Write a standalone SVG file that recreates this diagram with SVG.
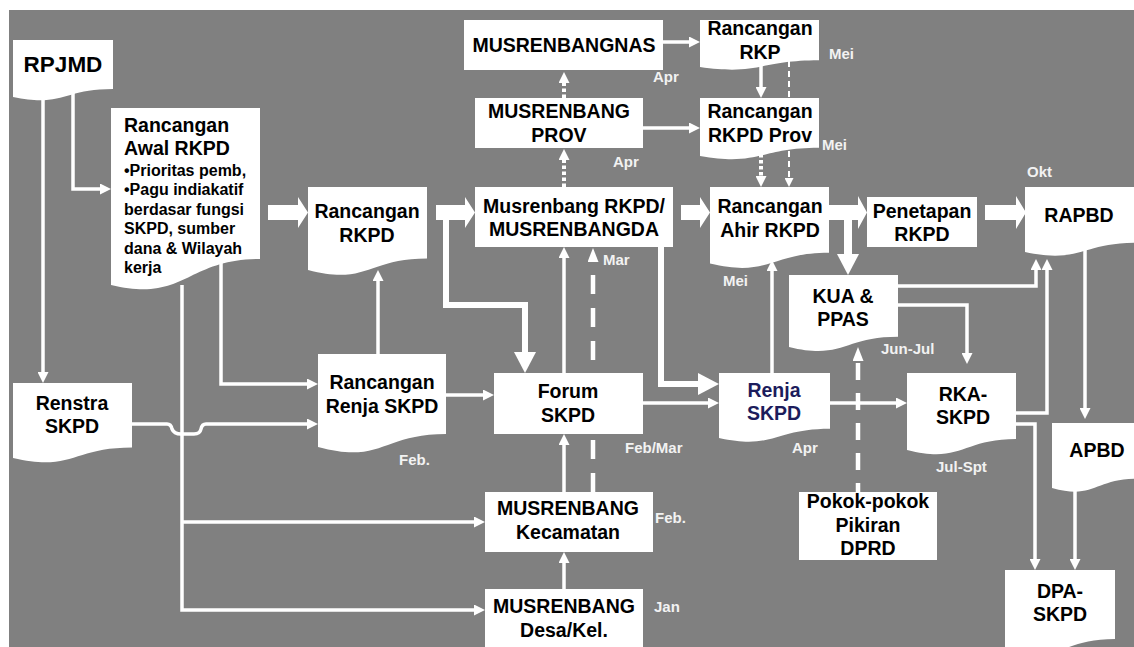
<svg xmlns="http://www.w3.org/2000/svg" width="1134" height="647" viewBox="0 0 1134 647">
<style>
.n{fill:#fff}
.t{font-family:'Liberation Sans',Arial,Helvetica,sans-serif;font-weight:bold;font-size:19.5px;fill:#000;text-anchor:middle}
.s{font-family:'Liberation Sans',Arial,Helvetica,sans-serif;font-weight:bold;font-size:16px;fill:#000}
.lb{font-family:'Liberation Sans',Arial,Helvetica,sans-serif;font-weight:bold;font-size:15px;fill:#f2f2f2}
.c{fill:none;stroke:#fff;stroke-width:3.5}
.th{fill:none;stroke:#fff;stroke-width:6}
.dot{fill:none;stroke:#fff;stroke-width:4;stroke-dasharray:3.5 2.5}
.dl{fill:none;stroke:#fff;stroke-width:4.5}
.dt{fill:none;stroke:#fff;stroke-width:2;stroke-dasharray:6 4}
.blk{fill:#fff}
</style>
<defs>
<marker id="a" viewBox="0 0 11 11" markerWidth="11" markerHeight="11" refX="2" refY="5.5" orient="auto" markerUnits="userSpaceOnUse"><path d="M0,0 L11,5.5 L0,11 Z" fill="#fff"/></marker>
<marker id="s" viewBox="0 0 9 9" markerWidth="9" markerHeight="9" refX="2" refY="4.5" orient="auto" markerUnits="userSpaceOnUse"><path d="M0,0 L9,4.5 L0,9 Z" fill="#fff"/></marker>
<marker id="m" viewBox="0 0 14 11" markerWidth="14" markerHeight="11" refX="2" refY="5.5" orient="auto" markerUnits="userSpaceOnUse"><path d="M0,0 L14,5.5 L0,11 Z" fill="#fff"/></marker>
<marker id="b" viewBox="0 0 21 22" markerWidth="21" markerHeight="22" refX="1" refY="11" orient="auto" markerUnits="userSpaceOnUse"><path d="M0,0 L21,11 L0,22 Z" fill="#fff"/></marker>
</defs>
<rect x="0" y="0" width="1134" height="647" fill="#fff"/>
<rect x="9" y="10" width="1125" height="637" fill="#808080"/>

<g id="connectors">
<path class="c" d="M43,95 V374" marker-end="url(#a)"/>
<path class="c" d="M73,88 V189 H102" marker-end="url(#a)"/>
<path class="c" d="M221,262 V384 H309" marker-end="url(#a)"/>
<path class="c" d="M182,285 V610 H476" marker-end="url(#a)"/>
<path class="c" d="M182,522 H476" marker-end="url(#a)"/>
<path class="c" d="M132,424 H167 Q171,424 172,429 Q174,434 181,434 H194 Q200,434 201,429 Q202,424 206,424 H309" marker-end="url(#a)"/>
<path class="c" d="M378,354 V279" marker-end="url(#a)"/>
<path class="c" d="M446,395 H485" marker-end="url(#a)"/>
<path class="c" d="M564,373 V256" marker-end="url(#a)"/>
<path class="c" d="M564,492 V443" marker-end="url(#a)"/>
<path class="c" d="M564,589 V561" marker-end="url(#a)"/>
<path class="c" d="M663,42 H691" marker-end="url(#a)"/>
<path class="c" d="M643,128 H691" marker-end="url(#a)"/>
<path class="c" d="M761,62 V89" marker-end="url(#a)"/>
<path class="c" d="M643,403 H710" marker-end="url(#a)"/>
<path class="c" d="M772,373 V269" marker-end="url(#a)"/>
<path class="c" d="M830,403 H898" marker-end="url(#a)"/>
<path class="c" d="M898,286 H1036 V268" marker-end="url(#a)"/>
<path class="c" d="M898,305 H967 V355" marker-end="url(#a)"/>
<path class="c" d="M1016,413 H1047 V268" marker-end="url(#a)"/>
<path class="c" d="M1016,424 H1035 V561" marker-end="url(#a)"/>
<path class="c" d="M1085,250 V410" marker-end="url(#a)"/>
<path class="c" d="M1075,485 V561" marker-end="url(#a)"/>
<path class="dot" d="M564,187 V158" marker-end="url(#a)"/>
<path class="dot" d="M564,98 V81" marker-end="url(#a)"/>
<path class="dot" d="M761,154 V178" marker-end="url(#a)"/>
<path class="dt" d="M789,61 V180" marker-end="url(#s)"/>
<path class="dl" style="stroke-dasharray:19 14" d="M593,492 V260" marker-end="url(#m)"/>
<path class="dl" style="stroke-dasharray:17 13;stroke-dashoffset:8" d="M858,492 V359" marker-end="url(#m)"/>
<polygon class="blk" points="268,205 298,205 298,197 308,212.5 298,228 298,220 268,220"/>
<polygon class="blk" points="436,205 465,205 465,197 475,212.5 465,228 465,220 436,220"/>
<polygon class="blk" points="681,205 700,205 700,197 710,212.5 700,228 700,220 681,220"/>
<polygon class="blk" points="829,205 858,205 858,196 867,212.5 858,229 858,220 829,220"/>
<polygon class="blk" points="985,205 1016,205 1016,196 1026,212.5 1016,229 1016,220 985,220"/>
<path class="th" d="M446,213 V305 H525 V353" marker-end="url(#b)"/>
<path class="th" d="M661,247 V384 H699" marker-end="url(#b)"/>
<path class="th" style="stroke-width:8" d="M848,213 V255" marker-end="url(#b)"/>
</g>

<g id="rpjmd"><path class="n" d="M13,40 H113 V88.9 C63,88.9 63,107.5 13,97 Z"/><text class="t" style="font-size:22.5px" x="63" y="72">RPJMD</text></g>

<g id="rancangan-awal-rkpd"><path class="n" d="M111,108 H260 V259 C185.5,259 185.5,303 111,285 Z"/>
<text class="t" style="text-anchor:start" x="124" y="132">Rancangan</text>
<text class="t" style="text-anchor:start" x="124" y="155">Awal RKPD</text>
<text class="s" x="124" y="176">•Prioritas pemb,</text>
<text class="s" x="124" y="195">•Pagu indiakatif</text>
<text class="s" x="124" y="215">berdasar fungsi</text>
<text class="s" x="124" y="234">SKPD, sumber</text>
<text class="s" x="124" y="254">dana &amp; Wilayah</text>
<text class="s" x="124" y="273">kerja</text></g>

<g id="rancangan-rkpd"><path class="n" d="M308,187 H427 V258.4 C367.5,258.4 367.5,285.5 308,270.1 Z"/><text class="t" x="367" y="218">Rancangan</text><text class="t" x="367" y="242">RKPD</text></g>

<g id="renstra-skpd"><path class="n" d="M13,383 H132 V447.4 C72.5,447.4 72.5,471.9 13,458 Z"/><text class="t" x="72" y="410">Renstra</text><text class="t" x="72" y="433">SKPD</text></g>

<g id="rancangan-renja-skpd"><path class="n" d="M318,354 H446 V433.9 C382,433.9 382,464.3 318,447 Z"/><text class="t" x="382" y="389">Rancangan</text><text class="t" x="382" y="413">Renja SKPD</text></g>

<g id="musrenbangnas"><rect class="n" x="464" y="20" width="199" height="50"/><text class="t" x="564" y="52">MUSRENBANGNAS</text></g>

<g id="rancangan-rkp"><path class="n" d="M700,20 H819 V60.3 C759.5,60.3 759.5,75.7 700,67 Z"/><text class="t" x="760" y="35">Rancangan</text><text class="t" x="760" y="59">RKP</text></g>

<g id="musrenbang-prov"><rect class="n" x="475" y="98" width="168" height="50"/><text class="t" x="559" y="118">MUSRENBANG</text><text class="t" x="559" y="142">PROV</text></g>

<g id="rancangan-rkpd-prov"><path class="n" d="M700,98 H819 V147.7 C759.5,147.7 759.5,166.6 700,155.9 Z"/><text class="t" x="760" y="118">Rancangan</text><text class="t" x="760" y="142">RKPD Prov</text></g>

<g id="musrenbang-rkpd"><rect class="n" x="475" y="187" width="198" height="60"/><text class="t" x="574" y="213">Musrenbang RKPD/</text><text class="t" x="574" y="236">MUSRENBANGDA</text></g>

<g id="rancangan-ahir-rkpd"><path class="n" d="M710,187 H829 V252.8 C769.5,252.8 769.5,277.8 710,263.6 Z"/><text class="t" x="770" y="213">Rancangan</text><text class="t" x="770" y="237">Ahir RKPD</text></g>

<g id="penetapan-rkpd"><rect class="n" x="867" y="197" width="110" height="50"/><text class="t" x="922" y="218">Penetapan</text><text class="t" x="922" y="241">RKPD</text></g>

<g id="rapbd"><path class="n" d="M1025,187 H1137 V242.8 C1081,242.8 1081,264 1025,252 Z"/><text class="t" x="1079" y="222">RAPBD</text></g>

<g id="kua-ppas"><path class="n" d="M789,275 H898 V336.8 C843.5,336.8 843.5,360.2 789,346.9 Z"/><text class="t" x="843" y="303">KUA &amp;</text><text class="t" x="843" y="326">PPAS</text></g>

<g id="forum-skpd"><rect class="n" x="494" y="373" width="149" height="61"/><text class="t" x="568" y="398">Forum</text><text class="t" x="568" y="422">SKPD</text></g>

<g id="renja-skpd"><path class="n" d="M719,373 H830 V428.8 C774.5,428.8 774.5,450 719,438 Z"/><text class="t" style="fill:#1c1c5c" x="774" y="397">Renja</text><text class="t" style="fill:#1c1c5c" x="774" y="420">SKPD</text></g>

<g id="rka-skpd"><path class="n" d="M907,373 H1016 V439.1 C961.5,439.1 961.5,464.2 907,450 Z"/><text class="t" x="963" y="401">RKA-</text><text class="t" x="963" y="424">SKPD</text></g>

<g id="musrenbang-kecamatan"><rect class="n" x="485" y="492" width="168" height="60"/><text class="t" x="568" y="515">MUSRENBANG</text><text class="t" x="568" y="539">Kecamatan</text></g>

<g id="musrenbang-desa"><rect class="n" x="485" y="589" width="158" height="60"/><text class="t" x="564" y="613">MUSRENBANG</text><text class="t" x="564" y="637">Desa/Kel.</text></g>

<g id="pokok-pikiran-dprd"><rect class="n" x="799" y="492" width="138" height="68"/><text class="t" x="868" y="508">Pokok-pokok</text><text class="t" x="868" y="532">Pikiran</text><text class="t" x="868" y="555">DPRD</text></g>

<g id="apbd"><path class="n" d="M1052,423 H1137 V478.8 C1094.5,478.8 1094.5,500 1052,488 Z"/><text class="t" x="1097" y="457">APBD</text></g>

<g id="dpa-skpd"><path class="n" d="M1005,570 H1115 V639 C1060,639 1060,665.2 1005,650.3 Z"/><text class="t" x="1060" y="598">DPA-</text><text class="t" x="1060" y="621">SKPD</text></g>

<g id="labels">
<text class="lb" x="653" y="82">Apr</text>
<text class="lb" x="829" y="59">Mei</text>
<text class="lb" x="613" y="167">Apr</text>
<text class="lb" x="822" y="150">Mei</text>
<text class="lb" x="603" y="265">Mar</text>
<text class="lb" x="723" y="286">Mei</text>
<text class="lb" x="1027" y="177">Okt</text>
<text class="lb" x="881" y="354">Jun-Jul</text>
<text class="lb" x="399" y="465">Feb.</text>
<text class="lb" x="625" y="453">Feb/Mar</text>
<text class="lb" x="792" y="453">Apr</text>
<text class="lb" x="936" y="472">Jul-Spt</text>
<text class="lb" x="655" y="523">Feb.</text>
<text class="lb" x="654" y="612">Jan</text>
</g>
</svg>
